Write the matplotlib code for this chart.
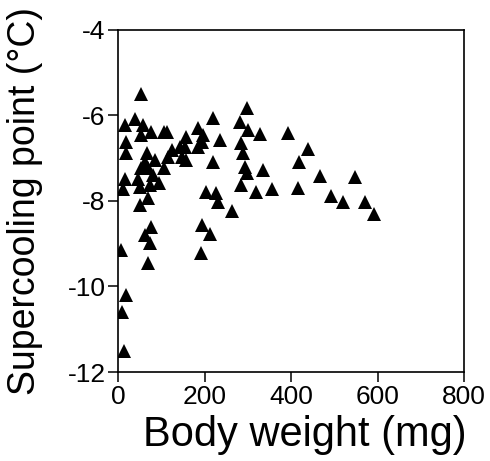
import numpy as np
import matplotlib
matplotlib.use("agg")
import matplotlib.pyplot as plt

plt.rcParams['font.family'] = ['Liberation Sans', 'DejaVu Sans']

# body weight (mg) and supercooling point (degC)
weight = [6, 18, 10, 13,
          15, 39, 58, 54, 54, 77, 106,
          19, 19, 66, 85, 124, 116,
          54, 69, 106, 143, 147,
          16, 46, 12, 50, 73, 94,
          69, 50, 77, 62, 73, 69,
          112, 62, 80,
          158, 154, 158, 185, 196, 193, 185, 220, 235, 220,
          204, 226, 231, 193, 212, 191, 264,
          297, 281, 300, 328, 285, 289, 293, 334, 297, 285, 318, 355,
          393, 439, 419, 466, 547, 416, 493, 520, 570, 591]
scp = [-9.15, -10.2, -10.6, -11.5,
       -6.23, -6.10, -6.23, -5.51, -6.46, -6.39, -6.39,
       -6.62, -6.89, -6.89, -7.05, -6.82, -6.97,
       -7.24, -7.24, -7.24, -6.74, -6.97,
       -7.48, -7.48, -7.73, -7.67, -7.63, -7.59,
       -7.94, -8.10, -8.62, -8.80, -8.98, -9.45,
       -6.39, -7.10, -7.40,
       -6.50, -6.74, -7.05, -6.29, -6.46, -6.62, -6.74, -6.06, -6.57, -7.09,
       -7.79, -7.83, -8.02, -8.57, -8.78, -9.21, -8.24,
       -5.83, -6.17, -6.35, -6.43, -6.66, -6.89, -7.21, -7.28, -7.36, -7.63, -7.79, -7.73,
       -6.41, -6.78, -7.09, -7.42, -7.45, -7.71, -7.89, -8.02, -8.02, -8.31]

xticks = [0, 200, 400, 600, 800]
yticks = [-12, -10, -8, -6, -4]

fig = plt.figure(figsize=(4.9, 4.61), dpi=100)
ax = fig.add_axes([0.241, 0.193, 0.706, 0.743])

ax.plot(weight, scp, '^', color='black', markersize=10.5, markeredgewidth=0)

ax.set_xlim(0, 800)
ax.set_ylim(-12, -4)
ax.set_xticks(xticks)
ax.set_yticks(yticks)
ax.set_xticklabels([str(t) for t in xticks], fontsize=19)
ax.set_yticklabels([str(t) for t in yticks], fontsize=19)
ax.tick_params(direction='out', length=7, width=1.1, pad=2)

for s in ax.spines.values():
    s.set_linewidth(1.2)

ax.set_xlabel("Body weight (mg)", fontsize=30)
ax.set_ylabel("Supercooling point (°C)", fontsize=27)
ax.xaxis.label.set_va('center')
ax.yaxis.label.set_va('center')
ax.xaxis.set_label_coords(0.54, -0.184)
ax.yaxis.set_label_coords(-0.27, 0.5)

plt.savefig("out.png", dpi=100)
